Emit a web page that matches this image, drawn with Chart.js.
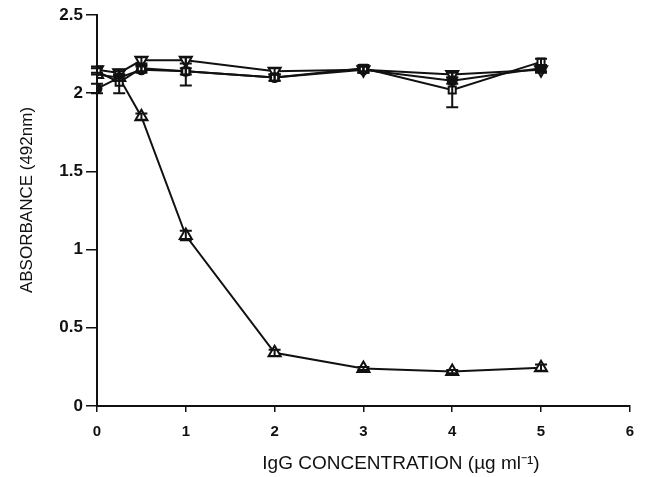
<!DOCTYPE html>
<html lang="en">
<head>
  <meta charset="UTF-8">
  <title>Absorbance vs IgG concentration</title>
  <script src="https://cdn.jsdelivr.net/npm/chart.js"></script>
  <style>
    html, body { margin: 0; padding: 0; background: #fff; }
    #wrap { position: relative; width: 645px; height: 477px; }
  </style>
</head>
<body>
<div id="wrap">
  <canvas id="chart" width="645" height="477"></canvas>
</div>

<script>
// concentrations (ug/ml)
const conc = [0, 0.25, 0.5, 1, 2, 3, 4, 5];

// absorbance at 492nm
const squareVals   = [2.14, 2.07, 2.16, 2.14, 2.10, 2.16, 2.02, 2.20];
const squareErr    = [0.02, 0.07, 0.02, 0.09, 0.02, 0.02, 0.11, 0.02];
const filledVals   = [2.03, 2.10, 2.15, 2.14, 2.10, 2.15, 2.08, 2.16];
const filledErr    = [0.03, 0.02, 0.02, 0.02, 0.02, 0.02, 0.02, 0.02];
const invTriVals   = [2.15, 2.13, 2.21, 2.21, 2.14, 2.15, 2.12, 2.15];
const invTriErr    = [0.02, 0.02, 0.02, 0.02, 0.02, 0.02, 0.02, 0.02];
const triVals      = [2.12, 2.10, 1.85, 1.09, 0.34, 0.24, 0.22, 0.245];
const triErr       = [0.00, 0.02, 0.02, 0.03, 0.02, 0.01, 0.01, 0.02];

const xTicks = [0, 1, 2, 3, 4, 5, 6];
const yTicks = [0, 0.5, 1, 1.5, 2, 2.5];

const xTitle = 'IgG CONCENTRATION (\u00B5g ml\u207B\u00B9)';
const yTitle = 'ABSORBANCE (492nm)';

const INK = '#111';
const fontFamily = '"Liberation Sans", Arial, sans-serif';

function series(vals, errs, style, filled, rotation, radius) {
  return {
    data: conc.map((x, i) => ({ x: x, y: vals[i] })),
    errs: errs,
    borderColor: INK,
    borderWidth: 2,
    pointStyle: style,
    pointRotation: rotation || 0,
    pointRadius: radius,
    pointBorderWidth: 2,
    pointBorderColor: INK,
    pointBackgroundColor: filled ? INK : '#fff',
    tension: 0
  };
}

// vertical error bars with caps
const errorBars = {
  id: 'errorBars',
  afterDatasetsDraw(chart) {
    const ctx = chart.ctx;
    const y = chart.scales.y;
    ctx.save();
    ctx.strokeStyle = INK;
    ctx.lineWidth = 2;
    chart.data.datasets.forEach((ds, di) => {
      const meta = chart.getDatasetMeta(di);
      meta.data.forEach((pt, i) => {
        const e = ds.errs[i];
        if (!e) return;
        const v = ds.data[i].y;
        const top = y.getPixelForValue(v + e);
        const bot = y.getPixelForValue(v - e);
        ctx.beginPath();
        ctx.moveTo(pt.x, top); ctx.lineTo(pt.x, bot);
        ctx.moveTo(pt.x - 6, top); ctx.lineTo(pt.x + 6, top);
        ctx.moveTo(pt.x - 6, bot); ctx.lineTo(pt.x + 6, bot);
        ctx.stroke();
      });
    });
    ctx.restore();
  }
};

// axis titles
const axisTitles = {
  id: 'axisTitles',
  afterDraw(chart) {
    const ctx = chart.ctx;
    ctx.save();
    ctx.fillStyle = INK;
    ctx.textAlign = 'center';
    ctx.textBaseline = 'middle';
    ctx.font = '19px ' + fontFamily;
    ctx.fillText(xTitle, 401, 464);
    ctx.translate(27, 200);
    ctx.rotate(-Math.PI / 2);
    ctx.font = '17px ' + fontFamily;
    ctx.fillText(yTitle, 0, 0);
    ctx.restore();
  }
};

new Chart(document.getElementById('chart'), {
  type: 'line',
  data: {
    datasets: [
      series(squareVals, squareErr, 'rect', false, 0, 5),
      series(filledVals, filledErr, 'circle', true, 0, 4.5),
      series(invTriVals, invTriErr, 'triangle', false, 180, 7),
      series(triVals, triErr, 'triangle', false, 0, 7)
    ]
  },
  options: {
    responsive: false,
    animation: false,
    layout: { padding: { left: 40, top: 15, right: 5, bottom: 20 } },
    plugins: {
      legend: { display: false },
      tooltip: { enabled: false }
    },
    scales: {
      x: {
        type: 'linear',
        min: 0, max: 6,
        afterBuildTicks: s => { s.ticks = xTicks.map(v => ({ value: v })); },
        afterFit: s => { s.height = 51; },
        border: { color: INK, width: 2 },
        grid: { drawOnChartArea: false, drawTicks: true, tickLength: 6, color: INK, lineWidth: 1.5 },
        ticks: { color: INK, font: { family: fontFamily, size: 15, weight: 'bold' }, padding: 11, callback: v => String(v) }
      },
      y: {
        min: 0, max: 2.5,
        afterBuildTicks: s => { s.ticks = yTicks.map(v => ({ value: v })); },
        afterFit: s => { s.width = 57; },
        border: { color: INK, width: 2 },
        grid: { drawOnChartArea: false, drawTicks: true, tickLength: 11, color: INK, lineWidth: 1.5 },
        ticks: { color: INK, font: { family: fontFamily, size: 17, weight: 'bold' }, padding: 3, callback: v => String(v) }
      }
    }
  },
  plugins: [errorBars, axisTitles]
});
</script>
</body>
</html>
